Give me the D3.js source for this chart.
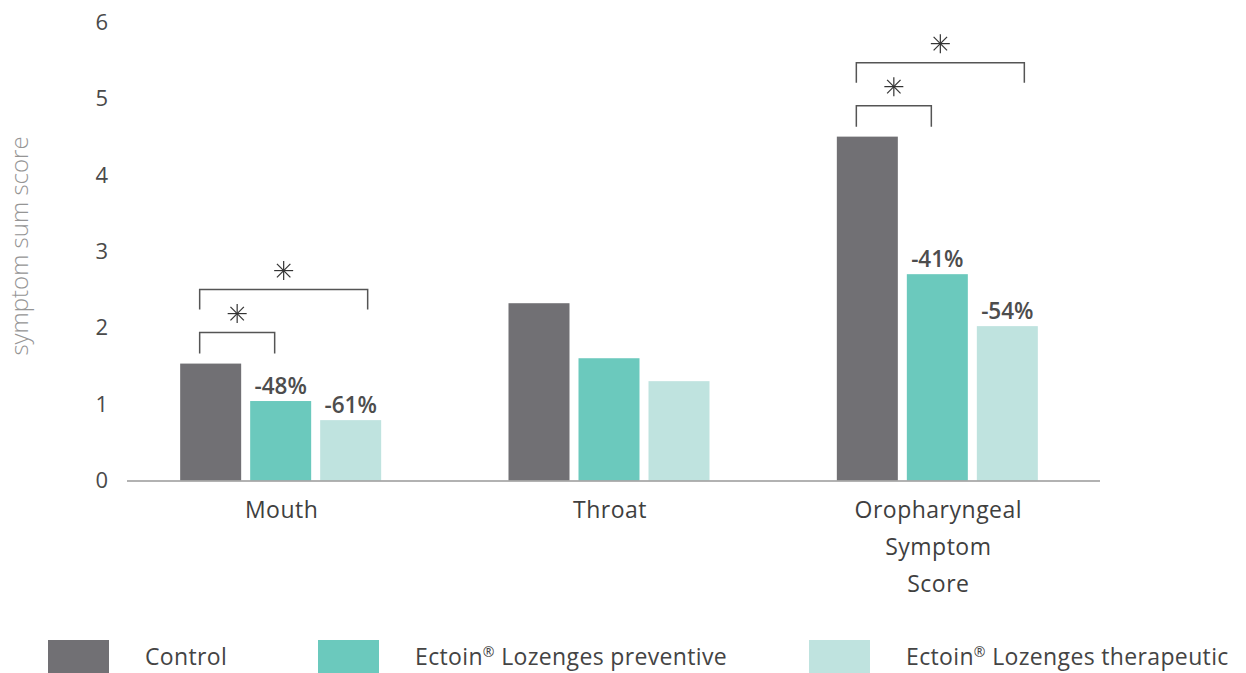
<!DOCTYPE html>
<html>
<head>
<meta charset="utf-8">
<script src="https://cdn.jsdelivr.net/npm/d3@7"></script>
<style>
  html, body { margin: 0; padding: 0; background: #fff; }
  svg { display: block; font-family: "Open Sans", "Noto Sans", sans-serif; }
</style>
</head>
<body>
<svg id="chart" width="1246" height="673"></svg>
<script>
// ---- data ----
const categories = ["Mouth", "Throat", "Oropharyngeal Symptom Score"];
const categoryLines = [["Mouth"], ["Throat"], ["Oropharyngeal", "Symptom", "Score"]];
const seriesNames = ["Control", "Ectoin® Lozenges preventive", "Ectoin® Lozenges therapeutic"];
const controlValues = [1.53, 2.32, 4.50];
const preventiveValues = [1.04, 1.60, 2.70];
const therapeuticValues = [0.79, 1.30, 2.02];
const preventiveLabels = ["-48%", "", "-41%"];
const therapeuticLabels = ["-61%", "", "-54%"];
const yTicks = [0, 1, 2, 3, 4, 5, 6];
const significantGroups = ["Mouth", "Oropharyngeal Symptom Score"];
const colors = ["#717074", "#6bc9bd", "#bfe3df"];

// ---- layout ----
const svg = d3.select("#chart");

const y = d3.scaleLinear().domain([0, 6]).range([480.5, 22]);
const x0 = d3.scaleBand().domain(categories).range([116.5, 1101.5]).paddingInner(0).paddingOuter(0);
const groupWidth = 201;
const x1 = d3.scaleBand().domain(seriesNames).range([0, groupWidth]).paddingInner(9 / 70).paddingOuter(0);
const groupStart = c => x0(c) + x0.bandwidth() / 2 - groupWidth / 2;

const seriesValues = [controlValues, preventiveValues, therapeuticValues];
const seriesLabels = [null, preventiveLabels, therapeuticLabels];

// y tick labels
svg.append("g").selectAll("text").data(yTicks).join("text")
  .attr("x", 108).attr("y", d => y(d))
  .attr("dy", "0.35em")
  .attr("text-anchor", "end")
  .attr("font-size", 22).attr("fill", "#4a4a4a")
  .text(d => d);

// y title
svg.append("text")
  .attr("transform", "translate(28,246) rotate(-90)")
  .attr("text-anchor", "middle")
  .attr("font-size", 24).attr("font-weight", 300).attr("fill", "#959595")
  .text("symptom sum score");

// bars
const bars = [];
categories.forEach((c, i) => {
  seriesNames.forEach((s, j) => {
    bars.push({ c, s, j, v: seriesValues[j][i], label: seriesLabels[j] ? seriesLabels[j][i] : "" });
  });
});

svg.append("g").selectAll("rect").data(bars).join("rect")
  .attr("x", d => groupStart(d.c) + x1(d.s))
  .attr("y", d => y(d.v))
  .attr("width", x1.bandwidth())
  .attr("height", d => y(0) - y(d.v))
  .attr("fill", d => colors[d.j]);

// x axis line
svg.append("line")
  .attr("x1", 127).attr("x2", 1100)
  .attr("y1", y(0) + 0.5).attr("y2", y(0) + 0.5)
  .attr("stroke", "#999").attr("stroke-width", 1.5);

// percentage labels
svg.append("g").selectAll("text").data(bars.filter(d => d.label)).join("text")
  .attr("x", d => groupStart(d.c) + x1(d.s) + x1.bandwidth() / 2)
  .attr("y", d => y(d.v) - 7)
  .attr("text-anchor", "middle")
  .attr("font-size", 22.5).attr("font-weight", 600).attr("fill", "#4d4d4d")
  .text(d => d.label);

// category labels
const catG = svg.append("g").selectAll("text").data(categories).join("text")
  .attr("text-anchor", "middle")
  .attr("font-size", 23).attr("fill", "#3f3f3f")
  .attr("letter-spacing", 0.5);
catG.each(function (c, i) {
  const t = d3.select(this);
  categoryLines[i].forEach((ln, k) => {
    t.append("tspan")
      .attr("x", x0(c) + x0.bandwidth() / 2 + 1)
      .attr("y", 518 + k * 37)
      .text(ln);
  });
});

// significance brackets
const brG = svg.append("g");
function star(cx, cy) {
  const r = 9.5;
  const g = brG.append("g").attr("stroke", "#333").attr("stroke-width", 1.2);
  [0, 45, 90, 135].forEach(a => {
    const rad = a * Math.PI / 180;
    g.append("line")
      .attr("x1", cx - r * Math.cos(rad)).attr("y1", cy - r * Math.sin(rad))
      .attr("x2", cx + r * Math.cos(rad)).attr("y2", cy + r * Math.sin(rad));
  });
}
significantGroups.forEach(c => {
  const i = categories.indexOf(c);
  const top = y(controlValues[i]);
  const cx = s => groupStart(c) + x1(s) + x1.bandwidth() / 2;
  const xa = cx(seriesNames[0]) - 11;
  const xb = cx(seriesNames[1]) - 6;
  const xc = cx(seriesNames[2]) + 17;
  brG.append("path")
    .attr("d", `M${xa},${top - 10}V${top - 31}H${xb}V${top - 10}`)
    .attr("fill", "none").attr("stroke", "#555").attr("stroke-width", 1.5);
  star((xa + xb) / 2, top - 50);
  brG.append("path")
    .attr("d", `M${xa},${top - 54}V${top - 74}H${xc}V${top - 54}`)
    .attr("fill", "none").attr("stroke", "#555").attr("stroke-width", 1.5);
  star((xa + xc) / 2, top - 93);
});

// legend
const legendX = [48, 318, 809];
const lg = svg.append("g").selectAll("g").data(seriesNames).join("g")
  .attr("transform", (d, i) => `translate(${legendX[i]},640)`);
lg.append("rect").attr("width", 61).attr("height", 33).attr("fill", (d, i) => colors[i]);
const lt = lg.append("text")
  .attr("x", 97).attr("y", 25)
  .attr("font-size", 23).attr("fill", "#444")
  .attr("letter-spacing", 0.35);
lt.each(function (d) {
  const t = d3.select(this);
  const parts = d.split("®");
  t.append("tspan").text(parts[0]);
  if (parts.length > 1) {
    t.append("tspan").attr("font-size", 14).attr("dy", -8).text("®");
    t.append("tspan").attr("dy", 8).text(parts[1]);
  }
});
</script>
</body>
</html>
